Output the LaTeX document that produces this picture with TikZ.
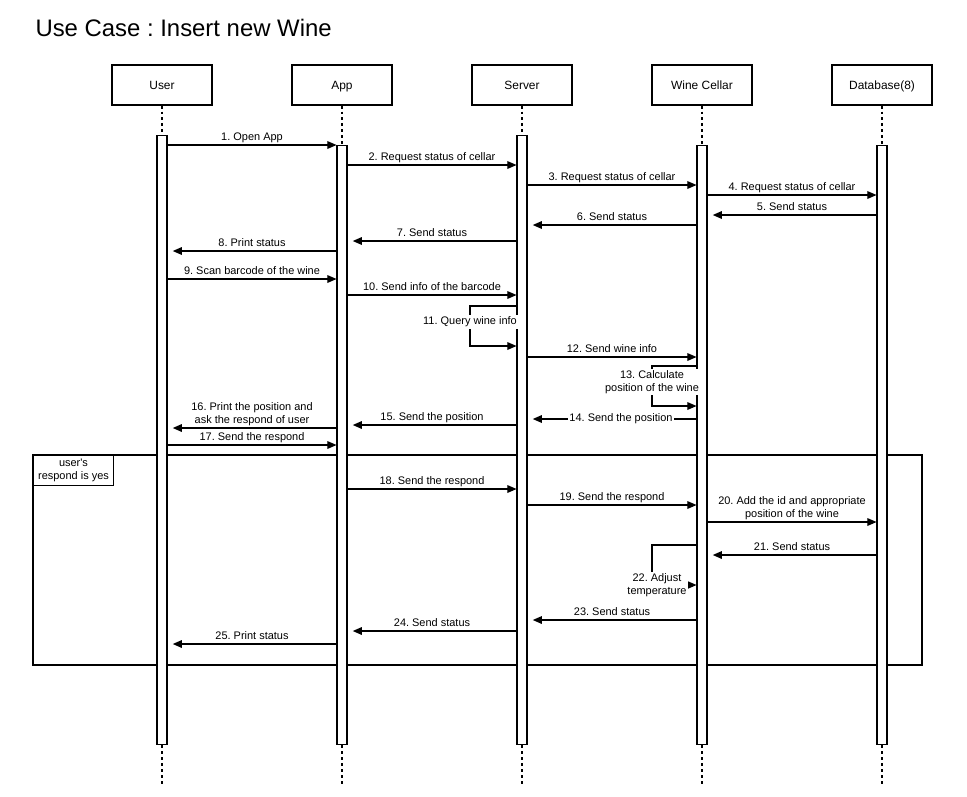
\documentclass[tikz,border=0pt]{standalone}
\usepackage{fontspec}
\setmainfont{Liberation Sans}
\usetikzlibrary{arrows.meta}
\frenchspacing

\tikzset{
  head/.style={draw, minimum width=2cm, minimum height=0.8cm, inner sep=0, text height=0.72em, text depth=0.2em, font=\fontsize{6.8}{8}\selectfont},
  bar/.style={draw, fill=white, minimum width=0.2cm, inner sep=0},
  life/.style={dash pattern=on 1.7pt off 1.7pt},
  txt/.style={font=\fontsize{6.24}{7.4}\selectfont, align=center},
  lbl/.style={txt, above, inner sep=1pt, text depth=1.3pt},
  msg/.style={-{Triangle[length=5.2pt,width=4.4pt]}},
  ret/.style={msg, shorten >=3pt},
}

\begin{document}
\begin{tikzpicture}[x=0.02cm, y=-0.02cm, line width=0.6pt]
\useasboundingbox (0,0) rectangle (967,796);
\node[anchor=base west, inner sep=0, font=\fontsize{13.6}{16}\selectfont] (title) at (35,36) {Use Case : Insert new Wine};
% participants
\node[head] (user) at (162,85) {User};
\node[head] (app) at (342,85) {App};
\node[head] (server) at (522,85) {Server};
\node[head] (cellar) at (702,85) {Wine Cellar};
\node[head] (db) at (882,85) {Database(8)};
% alt frame
\draw (33,455) rectangle (922,665);
% activation bars
\node[bar, minimum height=12.2cm] (userB) at (162,440) {};
\node[bar, minimum height=12cm] (appB) at (342,445) {};
\node[bar, minimum height=12.2cm] (serverB) at (522,440) {};
\node[bar, minimum height=12cm] (cellarB) at (702,445) {};
\node[bar, minimum height=12cm] (dbB) at (882,445) {};
\foreach \n/\x in {user/162, app/342, server/522, cellar/702, db/882} {
  \draw[life] (\n) -- (\n B);
  \draw[life] (\n B) -- (\x,786);
}
\node[draw, fill=white, txt, inner sep=0, minimum width=1.6cm, minimum height=0.6cm, anchor=north west] (cond) at (33,455) {user\textquotesingle s\\respond is yes};
% messages
\draw[msg] (userB.east |- 0,145) -- node[lbl] (l1) {1. Open App} (appB.west |- 0,145);
\draw[msg] (appB.east |- 0,165) -- node[lbl] (l2) {2. Request status of cellar} (serverB.west |- 0,165);
\draw[msg] (serverB.east |- 0,185) -- node[lbl] (l3) {3. Request status of cellar} (cellarB.west |- 0,185);
\draw[msg] (cellarB.east |- 0,195) -- node[lbl] (l4) {4. Request status of cellar} (dbB.west |- 0,195);
\draw[ret] (dbB.west |- 0,215) -- node[lbl] (l5) {5. Send status} (cellarB.east |- 0,215);
\draw[ret] (cellarB.west |- 0,225) -- node[lbl] (l6) {6. Send status} (serverB.east |- 0,225);
\draw[ret] (serverB.west |- 0,241) -- node[lbl] (l7) {7. Send status} (appB.east |- 0,241);
\draw[ret] (appB.west |- 0,251) -- node[lbl] (l8) {8. Print status} (userB.east |- 0,251);
\draw[msg] (userB.east |- 0,279) -- node[lbl] (l9) {9. Scan barcode of the wine} (appB.west |- 0,279);
\draw[msg] (appB.east |- 0,295) -- node[lbl] (l10) {10. Send info of the barcode} (serverB.west |- 0,295);
\draw[msg] (serverB.west |- 0,306) -- (470,306) -- node[txt, fill=white, pos=0.4, inner sep=1pt] (l11) {11. Query wine info} (470,346) -- (serverB.west |- 0,346);
\draw[msg] (serverB.east |- 0,357) -- node[lbl] (l12) {12. Send wine info} (cellarB.west |- 0,357);
\draw[msg] (cellarB.west |- 0,366) -- (652,366) -- node[txt, fill=white, pos=0.4, inner sep=1pt] (l13) {13. Calculate\\position of the wine} (652,406) -- (cellarB.west |- 0,406);
\draw[ret] (cellarB.west |- 0,419) -- node[txt, fill=white, inner sep=1pt, xshift=0.18cm] (l14) {14. Send the position} (serverB.east |- 0,419);
\draw[ret] (serverB.west |- 0,425) -- node[lbl] (l15) {15. Send the position} (appB.east |- 0,425);
\draw[ret] (appB.west |- 0,428) -- node[lbl] (l16) {16. Print the position and\\ask the respond of user} (userB.east |- 0,428);
\draw[msg] (userB.east |- 0,445) -- node[lbl] (l17) {17. Send the respond} (appB.west |- 0,445);
\draw[msg] (appB.east |- 0,489) -- node[lbl] (l18) {18. Send the respond} (serverB.west |- 0,489);
\draw[msg] (serverB.east |- 0,505) -- node[lbl] (l19) {19. Send the respond} (cellarB.west |- 0,505);
\draw[msg] (cellarB.east |- 0,522) -- node[lbl] (l20) {20. Add the id and appropriate\\position of the wine} (dbB.west |- 0,522);
\draw[ret] (dbB.west |- 0,555) -- node[lbl] (l21) {21. Send status} (cellarB.east |- 0,555);
\draw[msg] (cellarB.west |- 0,545) -- (652,545) -- (652,585) -- (cellarB.west |- 0,585);
\node[txt, fill=white, inner sep=1pt] (l22) at (657,585) {22. Adjust\\temperature};
\draw[ret] (cellarB.west |- 0,620) -- node[lbl] (l23) {23. Send status} (serverB.east |- 0,620);
\draw[ret] (serverB.west |- 0,631) -- node[lbl] (l24) {24. Send status} (appB.east |- 0,631);
\draw[ret] (appB.west |- 0,644) -- node[lbl] (l25) {25. Print status} (userB.east |- 0,644);
\end{tikzpicture}
\end{document}
